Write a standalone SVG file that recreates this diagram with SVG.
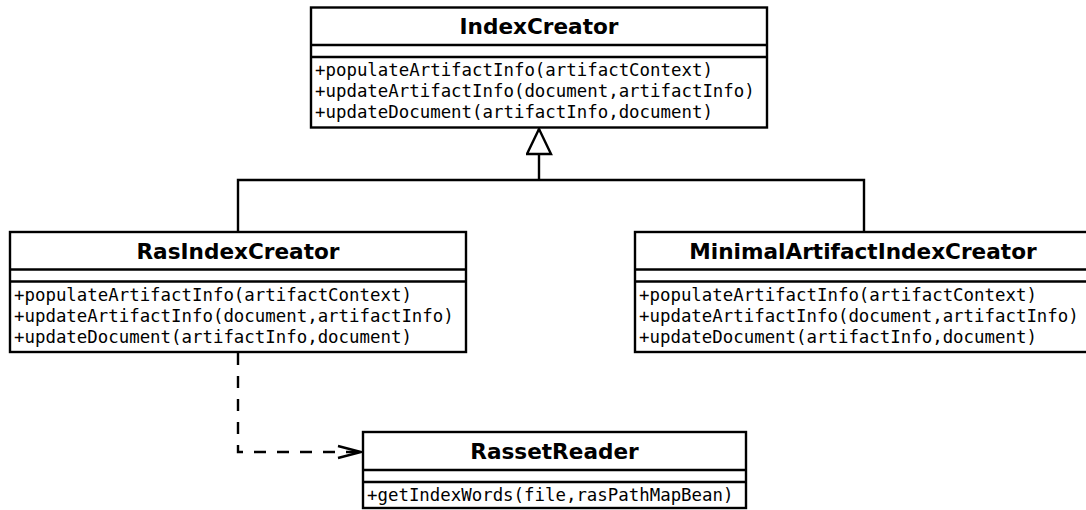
<svg xmlns="http://www.w3.org/2000/svg" width="1086" height="510" viewBox="0 0 1086 510">
<defs>
<style>
.box{fill:#fff;stroke:#000;stroke-width:2.4}
.sep{stroke:#000;stroke-width:2.4}
.title{font-family:"DejaVu Sans",sans-serif;font-weight:bold;font-size:21.6px;text-anchor:middle;fill:#000}
.op{font-family:"DejaVu Sans Mono",monospace;font-size:17.4px;fill:#000}
.conn{fill:none;stroke:#000;stroke-width:2.4}
.dash{stroke-dasharray:12 11}
</style>
<marker id="gen" markerWidth="30" markerHeight="30" refX="27" refY="13" orient="auto" markerUnits="userSpaceOnUse" viewBox="0 0 30 30">
<path d="M27,13 L2,1 L2,25 Z" fill="#fff" stroke="#000" stroke-width="2.4"/>
</marker>
<marker id="open" markerWidth="30" markerHeight="20" refX="24" refY="10" orient="auto" markerUnits="userSpaceOnUse" viewBox="0 0 30 20">
<path d="M1,4 L24,10 L1,16" fill="none" stroke="#000" stroke-width="2.4"/>
</marker>
</defs>
<g id="connectors">
<path class="conn" d="M238,232 V180 H864 V232"/>
<path class="conn" d="M539,180 V129" marker-end="url(#gen)"/>
<path class="conn dash" d="M238,353 V452 H361" marker-end="url(#open)"/>
</g>
<g id="IndexCreator">
<rect class="box" x="311" y="7.5" width="456" height="120"/>
<line class="sep" x1="311" y1="45" x2="767" y2="45"/>
<line class="sep" x1="311" y1="57" x2="767" y2="57"/>
<text class="title" x="539" y="34">IndexCreator</text>
<text class="op" x="315" y="76">+populateArtifactInfo(artifactContext)</text>
<text class="op" x="315" y="97">+updateArtifactInfo(document,artifactInfo)</text>
<text class="op" x="315" y="118">+updateDocument(artifactInfo,document)</text>
</g>
<g id="RasIndexCreator">
<rect class="box" x="10" y="232" width="456" height="120"/>
<line class="sep" x1="10" y1="269.5" x2="466" y2="269.5"/>
<line class="sep" x1="10" y1="281.5" x2="466" y2="281.5"/>
<text class="title" x="238" y="258.5">RasIndexCreator</text>
<text class="op" x="14" y="300.5">+populateArtifactInfo(artifactContext)</text>
<text class="op" x="14" y="321.5">+updateArtifactInfo(document,artifactInfo)</text>
<text class="op" x="14" y="342.5">+updateDocument(artifactInfo,document)</text>
</g>
<g id="MinimalArtifactIndexCreator">
<rect class="box" x="635" y="232" width="456" height="120"/>
<line class="sep" x1="635" y1="269.5" x2="1091" y2="269.5"/>
<line class="sep" x1="635" y1="281.5" x2="1091" y2="281.5"/>
<text class="title" x="863" y="258.5">MinimalArtifactIndexCreator</text>
<text class="op" x="639" y="300.5">+populateArtifactInfo(artifactContext)</text>
<text class="op" x="639" y="321.5">+updateArtifactInfo(document,artifactInfo)</text>
<text class="op" x="639" y="342.5">+updateDocument(artifactInfo,document)</text>
</g>
<g id="RassetReader">
<rect class="box" x="363" y="432" width="383" height="76"/>
<line class="sep" x1="363" y1="470" x2="746" y2="470"/>
<line class="sep" x1="363" y1="482" x2="746" y2="482"/>
<text class="title" x="554.5" y="458.5">RassetReader</text>
<text class="op" x="367" y="500.5">+getIndexWords(file,rasPathMapBean)</text>
</g>
</svg>
